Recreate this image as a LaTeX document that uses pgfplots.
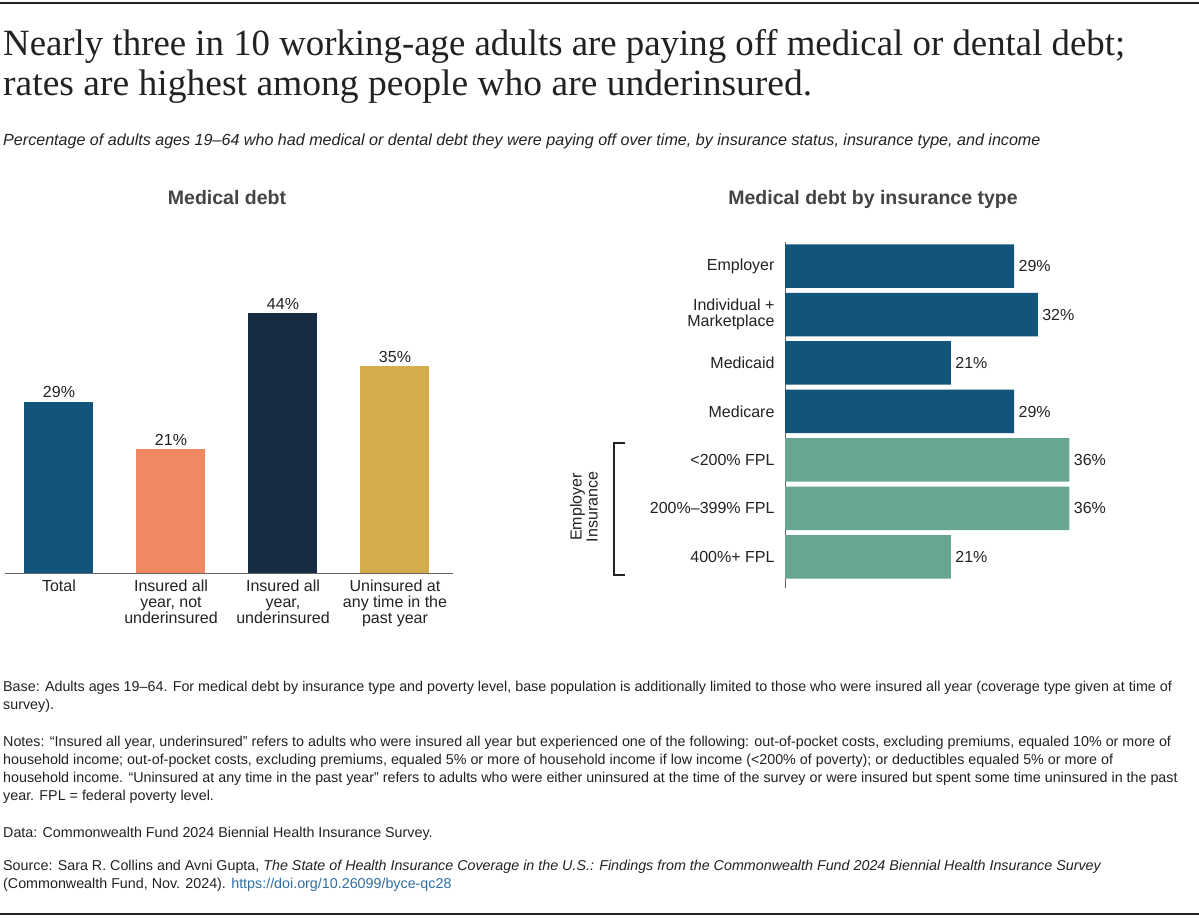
\documentclass[border=0pt]{standalone}
\usepackage{pgfplots}
\pgfplotsset{compat=1.18}
\usepackage{graphicx}
\usepackage{fontspec}
\setmainfont{Liberation Sans}
\newfontfamily\titlefont{Liberation Serif}
\definecolor{cfblue}{HTML}{12547A}
\definecolor{cfsalmon}{HTML}{F08864}
\definecolor{cfnavy}{HTML}{172B42}
\definecolor{cfgold}{HTML}{D4AC4C}
\definecolor{cfgreen}{HTML}{67A692}
\definecolor{cfgray}{HTML}{444444}
\definecolor{cftext}{HTML}{222222}
\definecolor{cflink}{HTML}{2F6FA3}
\definecolor{cfaxis}{HTML}{666666}
\newcommand{\lab}{\fontsize{16}{16}\selectfont}
\newcommand{\foot}{\fontsize{14.3}{16}\selectfont}
\begin{document}
\begin{tikzpicture}
\useasboundingbox (0,0) rectangle (1199pt,-920pt);
\fill[white] (0,0) rectangle (1199pt,-920pt);
\draw[line width=1.5pt, cftext] (0,-3pt) -- (1199pt,-3pt);
\draw[line width=1.5pt, cftext] (0,-914pt) -- (1199pt,-914pt);
% titles
\node[anchor=base west, inner sep=0, text=cftext] at (3pt,-56pt) {\resizebox{1122pt}{\height}{\fontsize{37}{40}\titlefont Nearly three in 10 working-age adults are paying off medical or dental debt;}};
\node[anchor=base west, inner sep=0, text=cftext] at (3pt,-96pt) {\resizebox{809pt}{\height}{\fontsize{37}{40}\titlefont rates are highest among people who are underinsured.}};
\node[anchor=base west, inner sep=0, text=cftext] at (3pt,-146pt) {\fontsize{16.1}{18}\selectfont\itshape Percentage of adults ages 19–64 who had medical or dental debt they were paying off over time, by insurance status, insurance type, and income};
\node[anchor=base, inner sep=0, text=cfgray] at (227pt,-205pt) {\fontsize{19.5}{20}\selectfont\bfseries Medical debt};
\node[anchor=base, inner sep=0, text=cfgray] at (873pt,-205pt) {\fontsize{19.5}{20}\selectfont\bfseries Medical debt by insurance type};
% left chart
\begin{axis}[at={(5pt,-573pt)}, anchor=south west, scale only axis,
  width=448pt, height=295.5pt,
  xmin=-0.482, xmax=3.518, ymin=0, ymax=50,
  ybar, bar width=69pt, bar shift=0pt,
  axis x line*=bottom, axis y line=none,
  axis line style={-, draw=cfaxis, line width=1pt},
  /pgf/number format/assume math mode=true,
  xtick={0,1,2,3}, ytick=\empty, major tick length=0pt,
  xticklabels={Total,{Insured all\\year, not\\underinsured},{Insured all\\year,\\underinsured},{Uninsured at\\any time in the\\past year}},
  xticklabel style={align=center, font=\lab, text=cftext, yshift=-3pt},
  nodes near coords={\pgfmathprintnumber{\pgfplotspointmeta}\%},
  nodes near coords style={font=\lab, text=cftext, anchor=south},
  clip=false]
\addplot[fill=cfblue, draw=none] coordinates {(0,29)};
\addplot[fill=cfsalmon, draw=none] coordinates {(1,21)};
\addplot[fill=cfnavy, draw=none] coordinates {(2,44)};
\addplot[fill=cfgold, draw=none] coordinates {(3,35)};
\end{axis}
% right chart
\begin{axis}[at={(785pt,-242pt)}, anchor=north west, scale only axis,
  width=395pt, height=346pt,
  xmin=0, xmax=50, ymin=-0.495, ymax=6.64, y dir=reverse,
  xbar, bar width=43.5pt, bar shift=0pt,
  axis y line*=left, axis x line=none,
  axis line style={-, draw=cfaxis, line width=1pt},
  /pgf/number format/assume math mode=true,
  ytick={0,1,2,3,4,5,6}, xtick=\empty, major tick length=0pt,
  yticklabels={Employer,{Individual +\\Marketplace},Medicaid,Medicare,<200\% FPL,200\%–399\% FPL,400\%+ FPL},
  yticklabel style={align=right, font=\lab, text=cftext, xshift=-7pt},
  nodes near coords={\pgfmathprintnumber{\pgfplotspointmeta}\%},
  nodes near coords style={font=\lab, text=cftext, anchor=west, xshift=1pt},
  clip=false]
\addplot[fill=cfblue, draw=none] coordinates {(29,0) (32,1) (21,2) (29,3)};
\addplot[fill=cfgreen, draw=none] coordinates {(36,4) (36,5) (21,6)};
\end{axis}
% bracket
\draw[line width=1.5pt, cftext] (625pt,-443pt) -- (614pt,-443pt) -- (614pt,-575pt) -- (625pt,-575pt);
\node[rotate=90, align=center, font=\lab, text=cftext] at (584pt,-507pt) {Employer\\Insurance};
% footnotes
\begin{scope}[every node/.style={anchor=base west, inner sep=0, text=cftext, font=\foot}]
\node at (3pt,-691pt) {Base: Adults ages 19–64. For medical debt by insurance type and poverty level, base population is additionally limited to those who were insured all year (coverage type given at time of};
\node at (3pt,-709pt) {survey).};
\node at (3pt,-746pt) {Notes: “Insured all year, underinsured” refers to adults who were insured all year but experienced one of the following: out-of-pocket costs, excluding premiums, equaled 10\% or more of};
\node at (3pt,-764pt) {household income; out-of-pocket costs, excluding premiums, equaled 5\% or more of household income if low income (<200\% of poverty); or deductibles equaled 5\% or more of};
\node at (3pt,-782pt) {household income. “Uninsured at any time in the past year” refers to adults who were either uninsured at the time of the survey or were insured but spent some time uninsured in the past};
\node at (3pt,-800pt) {year. FPL = federal poverty level.};
\node at (3pt,-837pt) {Data: Commonwealth Fund 2024 Biennial Health Insurance Survey.};
\node at (3pt,-870pt) {Source: Sara R. Collins and Avni Gupta, \textit{The State of Health Insurance Coverage in the U.S.: Findings from the Commonwealth Fund 2024 Biennial Health Insurance Survey}};
\node at (3pt,-888pt) {(Commonwealth Fund, Nov. 2024). \textcolor{cflink}{https://doi.org/10.26099/byce-qc28}};
\end{scope}
\end{tikzpicture}
\end{document}
